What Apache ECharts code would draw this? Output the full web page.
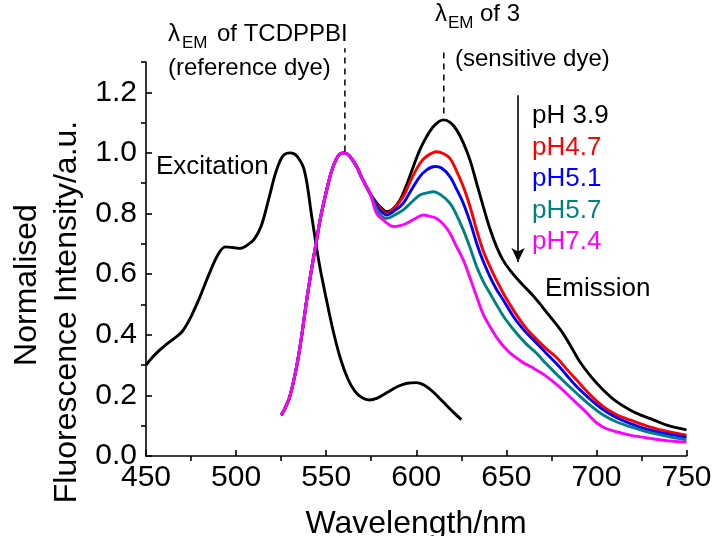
<!DOCTYPE html>
<html><head><meta charset="utf-8">
<script src="https://cdn.jsdelivr.net/npm/echarts@6/dist/echarts.min.js"></script>
<style>html,body{margin:0;padding:0;background:#fff}#c{width:716px;height:536px}</style>
</head><body><div id="c"></div>
<script>
const FONT = '"Liberation Sans", Arial, sans-serif';

// axis ticks
const xMajorTicks = [450, 500, 550, 600, 650, 700, 750];
const xMinorTicks = [475, 525, 575, 625, 675, 725];
const yMajorTicks = [0, 0.2, 0.4, 0.6, 0.8, 1.0, 1.2];
const yMinorTicks = [0.1, 0.3, 0.5, 0.7, 0.9, 1.1, 1.3];

// Excitation spectrum
const excitation = [
  [450,0.30],[455,0.335],[460,0.362],[465,0.385],[470,0.41],[475,0.46],[480,0.526],[485,0.60],
  [490,0.665],[494,0.69],[498,0.688],[502,0.685],[506,0.695],[510,0.715],[514,0.76],[518,0.845],
  [522,0.935],[526,0.99],[530,1.0],[534,0.988],[538,0.94],[542,0.79],[546,0.64],[550,0.52],
  [554,0.41],[558,0.32],[562,0.255],[566,0.213],[570,0.192],[574,0.185],[578,0.19],[582,0.203],
  [586,0.217],[590,0.23],[595,0.24],[600,0.242],[605,0.232],[610,0.208],[615,0.178],[620,0.148],[625,0.12]
];

// Emission spectra
const emissionPH39 = [
  [525,0.135],[527,0.155],[530,0.2],[533.6,0.295],[536,0.38],[539.2,0.515],[542,0.62],[544.7,0.713],
  [547,0.79],[550.3,0.878],[553,0.94],[555.8,0.982],[558,0.998],[560.4,1.0],[563,0.99],[566.9,0.955],
  [570,0.915],[574.3,0.867],[578,0.835],[580,0.822],[583.6,0.806],[587,0.815],[591,0.845],[595,0.90],
  [598.4,0.955],[602,1.01],[605.8,1.054],[610,1.09],[615,1.109],[619,1.10],[622.4,1.076],[626,1.035],
  [629.8,0.977],[633.5,0.90],[637.2,0.823],[641,0.748],[644.6,0.69],[648,0.648],[652,0.613],[657,0.578],
  [663.1,0.54],[668,0.507],[672.4,0.474],[677,0.44],[681.6,0.403],[686,0.36],[690.9,0.31],[697,0.262],
  [703.8,0.218],[711,0.18],[718.6,0.152],[725,0.134],[731.6,0.119],[740,0.10],[750,0.086]
];
const emissionPH47 = [
  [525,0.135],[527,0.155],[530,0.2],[533.6,0.295],[536,0.38],[539.2,0.515],[542,0.62],[544.7,0.713],
  [547,0.79],[550.3,0.878],[553,0.94],[555.8,0.982],[558,0.998],[560.4,1.0],[563,0.99],[566.9,0.955],
  [570,0.915],[574.3,0.867],[578,0.83],[580,0.818],[583.6,0.80],[588,0.82],[592.8,0.856],[597,0.91],
  [602.1,0.966],[606,0.99],[611.3,1.004],[615,0.998],[618.7,0.982],[622,0.945],[626.1,0.889],[630,0.82],
  [633.5,0.746],[637,0.68],[640.9,0.625],[644.5,0.58],[648.3,0.537],[652,0.50],[655.7,0.465],[661,0.422],
  [666.8,0.385],[672,0.355],[677.9,0.325],[683,0.29],[689,0.251],[696,0.205],[703.8,0.163],[711,0.137],
  [718.6,0.119],[730,0.095],[740,0.08],[750,0.069]
];
const emissionPH51 = [
  [525,0.135],[527,0.155],[530,0.2],[533.6,0.295],[536,0.38],[539.2,0.515],[542,0.62],[544.7,0.713],
  [547,0.79],[550.3,0.878],[553,0.94],[555.8,0.982],[558,0.998],[560.4,1.0],[563,0.99],[566.9,0.955],
  [570,0.915],[574.3,0.867],[578,0.825],[580,0.81],[583.6,0.795],[588,0.81],[592.8,0.834],[597,0.875],
  [602,0.922],[606,0.945],[610.4,0.955],[614,0.95],[618.7,0.922],[622,0.885],[626.1,0.834],[630,0.77],
  [633.5,0.702],[637,0.645],[640.9,0.592],[644.5,0.55],[648.3,0.515],[652,0.478],[655.7,0.445],[661,0.407],
  [666.8,0.372],[672,0.34],[677.9,0.304],[683,0.27],[689,0.229],[696,0.19],[703.8,0.152],[711,0.127],
  [718.6,0.108],[730,0.085],[740,0.072],[750,0.062]
];
const emissionPH57 = [
  [525,0.135],[527,0.155],[530,0.2],[533.6,0.295],[536,0.38],[539.2,0.515],[542,0.62],[544.7,0.713],
  [547,0.79],[550.3,0.878],[553,0.94],[555.8,0.982],[558,0.998],[560.4,1.0],[563,0.99],[566.9,0.955],
  [570,0.915],[574.3,0.867],[578,0.815],[581,0.79],[583.6,0.784],[588,0.795],[592.8,0.812],[597,0.835],
  [602,0.861],[606,0.868],[609.5,0.872],[614,0.86],[618.7,0.834],[622,0.80],[626.1,0.746],[630,0.685],
  [633.5,0.625],[637,0.578],[640.9,0.537],[644.5,0.50],[648.3,0.462],[652,0.432],[655.7,0.405],[661,0.37],
  [666.8,0.339],[672,0.305],[677.9,0.27],[683,0.24],[689,0.207],[696,0.17],[703.8,0.135],[711,0.113],
  [718.6,0.097],[730,0.077],[740,0.064],[750,0.053]
];
const emissionPH74 = [
  [525,0.135],[527,0.155],[530,0.2],[533.6,0.295],[536,0.38],[539.2,0.515],[542,0.62],[544.7,0.713],
  [547,0.79],[550.3,0.878],[553,0.94],[555.8,0.982],[558,0.998],[560.4,1.0],[563,0.99],[566.9,0.955],
  [570,0.915],[574.3,0.867],[578,0.80],[581.7,0.779],[584.5,0.765],[587.3,0.757],[591,0.76],[594.7,0.768],
  [599,0.782],[603.9,0.795],[608,0.79],[611.3,0.784],[615,0.765],[618.7,0.735],[622,0.695],[626.1,0.647],
  [630,0.585],[633.5,0.526],[637,0.47],[640.9,0.427],[644.5,0.392],[648.3,0.363],[653,0.335],[659.4,0.308],
  [665,0.29],[670.5,0.27],[676,0.245],[681.6,0.216],[688,0.18],[694.6,0.143],[699,0.115],[703.8,0.095],
  [711,0.08],[718.6,0.069],[730,0.058],[740,0.05],[750,0.046]
];

// annotation guides (wavelength, intensity)
const refDyeGuide = [[560.4,1.005],[560.4,1.345]];
const sensDyeGuide = [[615.3,1.13],[615.3,1.345]];
const arrowGuide = [[656.5,1.19],[656.5,0.64]];

const phLabels = ['pH 3.9','pH4.7','pH5.1','pH5.7','pH7.4'];
const phColors = ['#000000','#ff0000','#0000ff','#008080','#ff00ff'];
const phData = [emissionPH39, emissionPH47, emissionPH51, emissionPH57, emissionPH74];

const chart = echarts.init(document.getElementById('c'), null, {renderer:'canvas'});

const lineSeries = (data, color) => ({
  type:'line', data, xAxisIndex:0, yAxisIndex:0, symbol:'none', smooth:0.35,
  lineStyle:{color, width:2.9}, itemStyle:{color}, silent:true, animation:false
});

const series = [lineSeries(excitation,'#000')];
phData.forEach((d,i)=>series.push(lineSeries(d, phColors[i])));
series.push({
  type:'line', data:refDyeGuide, symbol:'none', clip:false, silent:true, animation:false,
  lineStyle:{color:'#000', width:1.5, type:[6,5]}
});
series.push({
  type:'line', data:sensDyeGuide, symbol:'none', clip:false, silent:true, animation:false,
  lineStyle:{color:'#000', width:1.5, type:[6,5]}
});
series.push({
  type:'line', data:[], symbol:'none', silent:true, animation:false,
  markLine:{
    silent:true, animation:false, symbol:['none','arrow'], symbolSize:[10,14],
    label:{show:false},
    lineStyle:{color:'#000', width:1.6, type:'solid'},
    data:[[{coord:arrowGuide[0]},{coord:arrowGuide[1]}]]
  }
});

const txt = (text, x, y, size, color, extra) => Object.assign({
  type:'text', x, y, silent:true,
  style:{text, font:size+'px '+FONT, fill:color||'#000', textAlign:'left', textVerticalAlign:'middle'}
}, extra||{});

const graphics = [
  txt('Excitation',156,167,26),
  txt('Emission',545,289,26),
  txt('λ',168,34,24),
  txt('EM',182,43,17),
  txt('of TCDPPBI',217,34,24),
  txt('(reference dye)',168,68,24),
  txt('λ',435,14,24),
  txt('EM',448,23,17),
  txt('of 3',480,14,24),
  txt('(sensitive dye)',455,59,24),
  {type:'text', x:27, y:285, rotation:Math.PI/2, silent:true,
   style:{text:'Normalised', font:'32px '+FONT, fill:'#000', textAlign:'center', textVerticalAlign:'middle'}},
  {type:'text', x:67.5, y:312, rotation:Math.PI/2, silent:true,
   style:{text:'Fluorescence Intensity/a.u.', font:'32px '+FONT, fill:'#000', textAlign:'center', textVerticalAlign:'middle'}},
  {type:'text', x:416, y:524, silent:true,
   style:{text:'Wavelength/nm', font:'32px '+FONT, fill:'#000', textAlign:'center', textVerticalAlign:'middle'}}
];
phLabels.forEach((t,i)=>graphics.push(txt(t,532,116+31.5*i,26,phColors[i])));

const axisLineStyle = {color:'#000', width:1.6};
chart.setOption({
  animation:false,
  backgroundColor:'#fff',
  grid:{left:146, right:29.5, top:62, bottom:80, containLabel:false, outerBoundsMode:'none'},
  xAxis:[
    {type:'value', min:450, max:750, interval:50, position:'bottom',
     axisLine:{lineStyle:axisLineStyle},
     axisTick:{inside:true, length:6, lineStyle:axisLineStyle, customValues:xMajorTicks},
     axisLabel:{color:'#000', fontSize:30, fontFamily:FONT, margin:7, customValues:xMajorTicks, formatter:v=>String(v)},
     splitLine:{show:false}},
    {type:'value', min:450, max:750, interval:25, position:'bottom', offset:0,
     axisLine:{show:false},
     axisTick:{inside:false, length:5, lineStyle:axisLineStyle, customValues:xMinorTicks},
     axisLabel:{show:false}, splitLine:{show:false}}
  ],
  yAxis:[
    {type:'value', min:0, max:1.3, interval:0.1, position:'left',
     axisLine:{show:true, lineStyle:axisLineStyle},
     axisTick:{show:true, inside:true, length:6, lineStyle:axisLineStyle, customValues:yMajorTicks},
     axisLabel:{color:'#000', fontSize:30, fontFamily:FONT, margin:9, customValues:yMajorTicks, formatter:v=>v.toFixed(1)},
     splitLine:{show:false}},
    {type:'value', min:0, max:1.3, interval:0.1, position:'left', offset:0,
     axisLine:{show:false},
     axisTick:{show:true, inside:false, length:5, lineStyle:axisLineStyle, customValues:yMinorTicks},
     axisLabel:{show:false}, splitLine:{show:false}}
  ],
  series,
  graphic:graphics
});
</script>
</body></html>
